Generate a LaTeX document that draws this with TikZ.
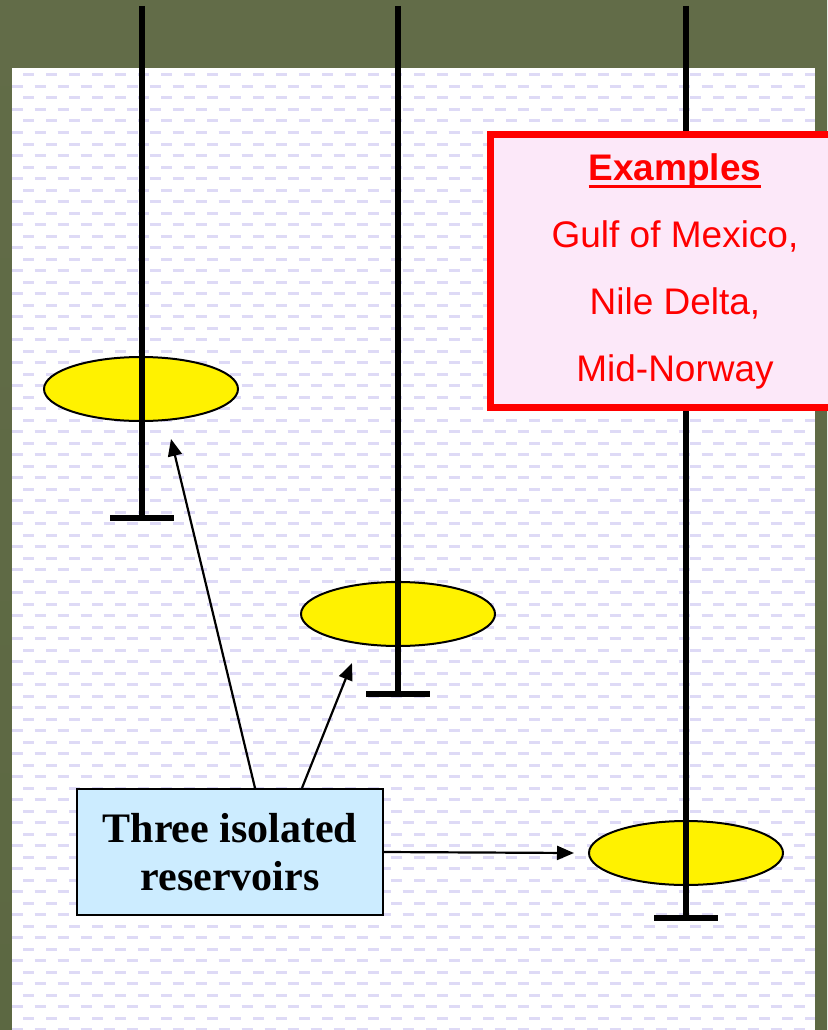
\documentclass[tikz,border=0pt]{standalone}
\usepackage{fontspec}
\setmainfont{Liberation Serif}
\newfontfamily\arialfont{Liberation Sans}
\usetikzlibrary{arrows.meta,shapes.geometric}

\definecolor{olivebg}{RGB}{98,108,72}
\definecolor{olivebot}{RGB}{92,104,66}
\definecolor{dashlav}{RGB}{222,218,246}
\definecolor{exfill}{RGB}{252,232,249}
\definecolor{resfill}{RGB}{204,236,255}

% underline placed like the slide's one
\newcommand{\exuline}[1]{\setbox0\hbox{#1}\rlap{\rule[-8pt]{\wd0}{3pt}}\box0}

\begin{document}
\begin{tikzpicture}[
  x=1pt, y=-1pt,
  reservoir/.style={ellipse, draw=black, line width=2pt, fill=yellow,
                    minimum width=194pt, minimum height=64pt, inner sep=0pt},
  well/.style={line width=6pt, draw=black},
  wellfoot/.style={line width=6pt, draw=black},
  exbox/.style={draw=red, line width=7pt, fill=exfill, text=red,
                minimum width=370pt, minimum height=273pt, align=center,
                font=\arialfont\fontsize{37}{67}\selectfont},
  labelbox/.style={draw=black, line width=2pt, fill=resfill, align=center,
                   minimum width=306pt, minimum height=126pt,
                   font=\bfseries\fontsize{42}{48}\selectfont},
  pointer/.style={-{Triangle[length=17pt,width=14pt]}, line width=2.2pt, draw=black}
]
\useasboundingbox (0,0) rectangle (827,1030);

% ---------- slide background and dashed panel ----------
\shade[top color=olivebg, bottom color=olivebot] (0,0) rectangle (827,1030);
\fill[white] (12,68) rectangle (815,1030);
\begin{scope}
  \clip (12,68) rectangle (815,1030);
  \foreach \i in {0,...,41}{
    \draw[dashlav, line width=3pt, dash pattern=on 11pt off 12pt, dash phase=12pt]
      (12,75+23*\i) -- (815,75+23*\i);
    \draw[dashlav, line width=3pt, dash pattern=on 11pt off 12pt]
      (11.5,86.5+23*\i) -- (815,86.5+23*\i);
  }
\end{scope}

% ---------- reservoirs ----------
\node[reservoir] (res1) at (141,389) {};
\node[reservoir] (res2) at (398,614) {};
\node[reservoir] (res3) at (686,853) {};

% ---------- wells ----------
\draw[well] (142,6) -- (142,518);
\draw[wellfoot] (110,518) -- (174,518);
\draw[well] (398,6) -- (398,694);
\draw[wellfoot] (366,694) -- (430,694);
\draw[well] (686,6) -- (686,918);
\draw[wellfoot] (654,918) -- (718,918);

% ---------- examples box ----------
\node[exbox] (examples) at (675,271)
  {\textbf{\exuline{Examples}}\\Gulf of Mexico,\\Nile Delta,\\Mid-Norway};

% ---------- label box and pointers ----------
\node[labelbox] (isolated) at (230,852) {Three isolated\\reservoirs};

\coordinate (tip1) at (171,439);
\coordinate (tip2) at (352,663);
\coordinate (tip3) at (574,853);

\draw[pointer] ([xshift=25pt]isolated.north) -- (tip1);
\draw[pointer] ([xshift=72pt]isolated.north) -- (tip2);
\draw[pointer] (isolated.east) -- (tip3);

\end{tikzpicture}
\end{document}
